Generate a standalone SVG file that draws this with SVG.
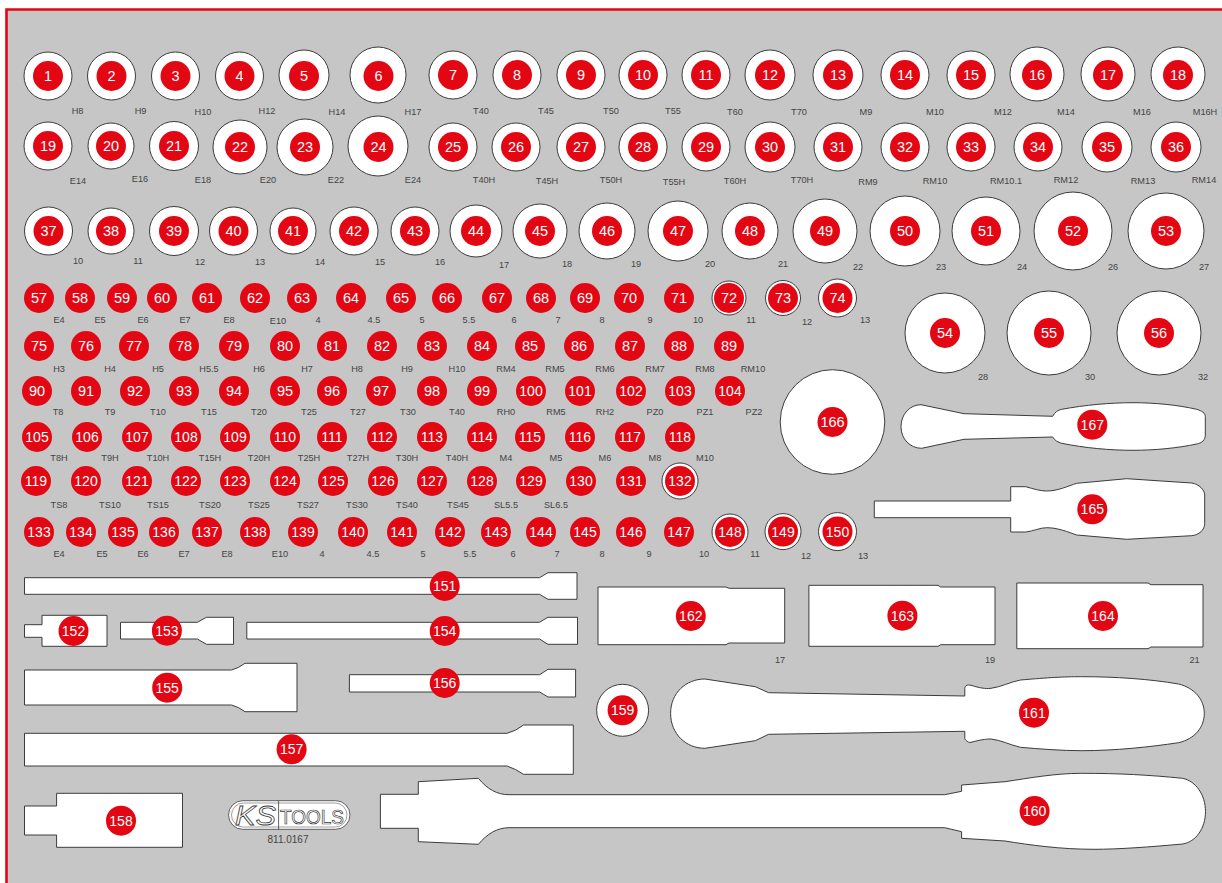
<svg xmlns="http://www.w3.org/2000/svg" width="1222" height="883" viewBox="0 0 1222 883">
<style>
text{font-family:"Liberation Sans",Arial,sans-serif}
.h{fill:#fff;stroke:#3c3c3c;stroke-width:1}
.b{fill:#e30613}
.n{fill:#fff;font-size:14.5px;text-anchor:middle}
.l{fill:#444;font-size:9.2px;text-anchor:middle}
</style>
<rect width="1222" height="883" fill="#fff"/>
<rect x="6.5" y="9.5" width="1216" height="874" fill="#c6c6c6"/>
<path d="M6.5 883V9.5H1222" fill="none" stroke="#e30613" stroke-width="2.6"/>
<g id="sockets-row-1">
<g id="n1"><circle class="h" cx="48" cy="76" r="24"/><circle class="b" cx="48" cy="76" r="15"/><text class="n" x="48" y="81">1</text><text class="l" x="77.5" y="114">H8</text></g>
<g id="n2"><circle class="h" cx="111.500" cy="76" r="24"/><circle class="b" cx="111.500" cy="76" r="15"/><text class="n" x="111.500" y="81">2</text><text class="l" x="140.500" y="114">H9</text></g>
<g id="n3"><circle class="h" cx="175.500" cy="76" r="24"/><circle class="b" cx="175.500" cy="76" r="15"/><text class="n" x="175.500" y="81">3</text><text class="l" x="203" y="115">H10</text></g>
<g id="n4"><circle class="h" cx="239.500" cy="76" r="24"/><circle class="b" cx="239.500" cy="76" r="15"/><text class="n" x="239.500" y="81">4</text><text class="l" x="267" y="114">H12</text></g>
<g id="n5"><circle class="h" cx="304" cy="75" r="25"/><circle class="b" cx="304" cy="76" r="15"/><text class="n" x="304" y="81">5</text><text class="l" x="337" y="115">H14</text></g>
<g id="n6"><circle class="h" cx="378" cy="75" r="28"/><circle class="b" cx="378.500" cy="76" r="15"/><text class="n" x="378.500" y="81">6</text><text class="l" x="413" y="115">H17</text></g>
<g id="n7"><circle class="h" cx="453" cy="75" r="24"/><circle class="b" cx="453" cy="75" r="15"/><text class="n" x="453" y="80">7</text><text class="l" x="481" y="114">T40</text></g>
<g id="n8"><circle class="h" cx="517" cy="75" r="24"/><circle class="b" cx="517" cy="75" r="15"/><text class="n" x="517" y="80">8</text><text class="l" x="546" y="114">T45</text></g>
<g id="n9"><circle class="h" cx="581" cy="75" r="24"/><circle class="b" cx="581" cy="75" r="15"/><text class="n" x="581" y="80">9</text><text class="l" x="611" y="114">T50</text></g>
<g id="n10"><circle class="h" cx="643" cy="75" r="24"/><circle class="b" cx="643" cy="75" r="15"/><text class="n" x="643" y="80">10</text><text class="l" x="673" y="114">T55</text></g>
<g id="n11"><circle class="h" cx="706" cy="75" r="24"/><circle class="b" cx="706" cy="75" r="15"/><text class="n" x="706" y="80">11</text><text class="l" x="735" y="115">T60</text></g>
<g id="n12"><circle class="h" cx="770" cy="75" r="25"/><circle class="b" cx="770" cy="75" r="15"/><text class="n" x="770" y="80">12</text><text class="l" x="799" y="115">T70</text></g>
<g id="n13"><circle class="h" cx="838" cy="75" r="25"/><circle class="b" cx="838" cy="75" r="15"/><text class="n" x="838" y="80">13</text><text class="l" x="866" y="115">M9</text></g>
<g id="n14"><circle class="h" cx="905" cy="75" r="24"/><circle class="b" cx="905" cy="75" r="15"/><text class="n" x="905" y="80">14</text><text class="l" x="935" y="115">M10</text></g>
<g id="n15"><circle class="h" cx="971" cy="75" r="24"/><circle class="b" cx="971" cy="75" r="15"/><text class="n" x="971" y="80">15</text><text class="l" x="1003" y="115">M12</text></g>
<g id="n16"><circle class="h" cx="1037" cy="74" r="27"/><circle class="b" cx="1037" cy="75" r="15"/><text class="n" x="1037" y="80">16</text><text class="l" x="1066" y="115">M14</text></g>
<g id="n17"><circle class="h" cx="1108" cy="74" r="27"/><circle class="b" cx="1108" cy="75" r="15"/><text class="n" x="1108" y="80">17</text><text class="l" x="1142" y="115">M16</text></g>
<g id="n18"><circle class="h" cx="1178" cy="74" r="27"/><circle class="b" cx="1178" cy="75" r="15"/><text class="n" x="1178" y="80">18</text><text class="l" x="1205" y="115">M16H</text></g>
</g>
<g id="sockets-row-2">
<g id="n19"><circle class="h" cx="48" cy="146" r="24"/><circle class="b" cx="48" cy="146" r="15"/><text class="n" x="48" y="151">19</text><text class="l" x="78" y="184">E14</text></g>
<g id="n20"><circle class="h" cx="111" cy="146" r="23"/><circle class="b" cx="111" cy="146" r="15"/><text class="n" x="111" y="151">20</text><text class="l" x="140" y="182">E16</text></g>
<g id="n21"><circle class="h" cx="174" cy="146" r="24.500"/><circle class="b" cx="174" cy="146" r="15"/><text class="n" x="174" y="151">21</text><text class="l" x="203" y="183">E18</text></g>
<g id="n22"><circle class="h" cx="240" cy="147" r="27"/><circle class="b" cx="240" cy="147" r="15"/><text class="n" x="240" y="152">22</text><text class="l" x="268" y="183">E20</text></g>
<g id="n23"><circle class="h" cx="305" cy="147" r="28"/><circle class="b" cx="305" cy="147" r="15"/><text class="n" x="305" y="152">23</text><text class="l" x="336" y="183">E22</text></g>
<g id="n24"><circle class="h" cx="378" cy="146" r="30"/><circle class="b" cx="378.500" cy="147" r="15"/><text class="n" x="378.500" y="152">24</text><text class="l" x="413" y="183">E24</text></g>
<g id="n25"><circle class="h" cx="453" cy="147" r="24"/><circle class="b" cx="453" cy="147" r="15"/><text class="n" x="453" y="152">25</text><text class="l" x="484" y="183">T40H</text></g>
<g id="n26"><circle class="h" cx="516" cy="147" r="24"/><circle class="b" cx="516" cy="147" r="15"/><text class="n" x="516" y="152">26</text><text class="l" x="547" y="184">T45H</text></g>
<g id="n27"><circle class="h" cx="581" cy="147" r="24"/><circle class="b" cx="581" cy="147" r="15"/><text class="n" x="581" y="152">27</text><text class="l" x="611" y="183">T50H</text></g>
<g id="n28"><circle class="h" cx="643" cy="147" r="24"/><circle class="b" cx="643" cy="147" r="15"/><text class="n" x="643" y="152">28</text><text class="l" x="674" y="185">T55H</text></g>
<g id="n29"><circle class="h" cx="706" cy="147" r="24"/><circle class="b" cx="706" cy="147" r="15"/><text class="n" x="706" y="152">29</text><text class="l" x="735" y="184">T60H</text></g>
<g id="n30"><circle class="h" cx="770" cy="147" r="25"/><circle class="b" cx="770" cy="147" r="15"/><text class="n" x="770" y="152">30</text><text class="l" x="802" y="183">T70H</text></g>
<g id="n31"><circle class="h" cx="838" cy="147" r="24"/><circle class="b" cx="838" cy="147" r="15"/><text class="n" x="838" y="152">31</text><text class="l" x="868" y="185">RM9</text></g>
<g id="n32"><circle class="h" cx="905" cy="147" r="24"/><circle class="b" cx="905" cy="147" r="15"/><text class="n" x="905" y="152">32</text><text class="l" x="935" y="184">RM10</text></g>
<g id="n33"><circle class="h" cx="971" cy="147" r="24"/><circle class="b" cx="971" cy="147" r="15"/><text class="n" x="971" y="152">33</text><text class="l" x="1006" y="184">RM10.1</text></g>
<g id="n34"><circle class="h" cx="1038" cy="147" r="24"/><circle class="b" cx="1038" cy="147" r="15"/><text class="n" x="1038" y="152">34</text><text class="l" x="1066" y="183">RM12</text></g>
<g id="n35"><circle class="h" cx="1107" cy="147" r="25"/><circle class="b" cx="1107" cy="147" r="15"/><text class="n" x="1107" y="152">35</text><text class="l" x="1143" y="184">RM13</text></g>
<g id="n36"><circle class="h" cx="1176" cy="147" r="25"/><circle class="b" cx="1176" cy="147" r="15"/><text class="n" x="1176" y="152">36</text><text class="l" x="1204" y="183">RM14</text></g>
</g>
<g id="sockets-row-3">
<g id="n37"><circle class="h" cx="48.500" cy="231" r="24"/><circle class="b" cx="48.500" cy="231" r="15"/><text class="n" x="48.500" y="236">37</text><text class="l" x="78" y="264">10</text></g>
<g id="n38"><circle class="h" cx="111" cy="231" r="23"/><circle class="b" cx="111" cy="231" r="15"/><text class="n" x="111" y="236">38</text><text class="l" x="138" y="264">11</text></g>
<g id="n39"><circle class="h" cx="174" cy="231" r="24.500"/><circle class="b" cx="174" cy="231" r="15"/><text class="n" x="174" y="236">39</text><text class="l" x="200" y="265">12</text></g>
<g id="n40"><circle class="h" cx="233.500" cy="231" r="24"/><circle class="b" cx="233.500" cy="231" r="15"/><text class="n" x="233.500" y="236">40</text><text class="l" x="260" y="265">13</text></g>
<g id="n41"><circle class="h" cx="293" cy="231" r="23"/><circle class="b" cx="293" cy="231" r="15"/><text class="n" x="293" y="236">41</text><text class="l" x="320" y="265">14</text></g>
<g id="n42"><circle class="h" cx="354" cy="231" r="24"/><circle class="b" cx="354" cy="231" r="15"/><text class="n" x="354" y="236">42</text><text class="l" x="380" y="265">15</text></g>
<g id="n43"><circle class="h" cx="415" cy="231" r="24"/><circle class="b" cx="415" cy="231" r="15"/><text class="n" x="415" y="236">43</text><text class="l" x="440" y="265">16</text></g>
<g id="n44"><circle class="h" cx="476" cy="231" r="26"/><circle class="b" cx="476" cy="231" r="15"/><text class="n" x="476" y="236">44</text><text class="l" x="504" y="268">17</text></g>
<g id="n45"><circle class="h" cx="540" cy="231" r="27"/><circle class="b" cx="540" cy="231" r="15"/><text class="n" x="540" y="236">45</text><text class="l" x="567" y="267">18</text></g>
<g id="n46"><circle class="h" cx="607" cy="231" r="28"/><circle class="b" cx="607" cy="231" r="15"/><text class="n" x="607" y="236">46</text><text class="l" x="636" y="267">19</text></g>
<g id="n47"><circle class="h" cx="678" cy="231" r="30"/><circle class="b" cx="678" cy="231" r="15"/><text class="n" x="678" y="236">47</text><text class="l" x="710" y="267">20</text></g>
<g id="n48"><circle class="h" cx="750" cy="231" r="28"/><circle class="b" cx="750" cy="231" r="15"/><text class="n" x="750" y="236">48</text><text class="l" x="783" y="267">21</text></g>
<g id="n49"><circle class="h" cx="825" cy="231" r="32"/><circle class="b" cx="825" cy="231" r="15"/><text class="n" x="825" y="236">49</text><text class="l" x="858" y="270">22</text></g>
<g id="n50"><circle class="h" cx="905" cy="231" r="35"/><circle class="b" cx="905" cy="231" r="15"/><text class="n" x="905" y="236">50</text><text class="l" x="941" y="270">23</text></g>
<g id="n51"><circle class="h" cx="986" cy="231" r="34"/><circle class="b" cx="986" cy="231" r="15"/><text class="n" x="986" y="236">51</text><text class="l" x="1022" y="270">24</text></g>
<g id="n52"><circle class="h" cx="1073" cy="231" r="39"/><circle class="b" cx="1073" cy="231" r="15"/><text class="n" x="1073" y="236">52</text><text class="l" x="1113" y="270">26</text></g>
<g id="n53"><circle class="h" cx="1166" cy="231" r="38"/><circle class="b" cx="1166" cy="231" r="15"/><text class="n" x="1166" y="236">53</text><text class="l" x="1204" y="270">27</text></g>
</g>
<g id="sockets-large">
<g id="n54"><circle class="h" cx="945" cy="333" r="40"/><circle class="b" cx="945" cy="333" r="15"/><text class="n" x="945" y="338">54</text><text class="l" x="983" y="380">28</text></g>
<g id="n55"><circle class="h" cx="1049" cy="333" r="42"/><circle class="b" cx="1049" cy="333" r="15"/><text class="n" x="1049" y="338">55</text><text class="l" x="1090" y="380">30</text></g>
<g id="n56"><circle class="h" cx="1159" cy="333" r="42"/><circle class="b" cx="1159" cy="333" r="15"/><text class="n" x="1159" y="338">56</text><text class="l" x="1203" y="380">32</text></g>
<g id="n166"><circle class="h" cx="832.500" cy="422" r="52.300"/><circle class="b" cx="832.500" cy="422" r="15"/><text class="n" x="832.500" y="427">166</text></g>
</g>
<g id="bits-row-1">
<g id="n57"><circle class="b" cx="39" cy="298" r="15"/><text class="n" x="39" y="303">57</text><text class="l" x="59" y="323">E4</text></g>
<g id="n58"><circle class="b" cx="80" cy="298" r="15"/><text class="n" x="80" y="303">58</text><text class="l" x="100" y="323">E5</text></g>
<g id="n59"><circle class="b" cx="122" cy="298" r="15"/><text class="n" x="122" y="303">59</text><text class="l" x="143" y="323">E6</text></g>
<g id="n60"><circle class="b" cx="162" cy="298" r="15"/><text class="n" x="162" y="303">60</text><text class="l" x="185" y="323">E7</text></g>
<g id="n61"><circle class="b" cx="207" cy="298" r="15"/><text class="n" x="207" y="303">61</text><text class="l" x="229" y="323">E8</text></g>
<g id="n62"><circle class="b" cx="255" cy="298" r="15"/><text class="n" x="255" y="303">62</text><text class="l" x="278" y="324">E10</text></g>
<g id="n63"><circle class="b" cx="302" cy="298" r="15"/><text class="n" x="302" y="303">63</text><text class="l" x="318" y="323">4</text></g>
<g id="n64"><circle class="b" cx="351" cy="298" r="15"/><text class="n" x="351" y="303">64</text><text class="l" x="374" y="323">4.5</text></g>
<g id="n65"><circle class="b" cx="401" cy="298" r="15"/><text class="n" x="401" y="303">65</text><text class="l" x="422" y="323">5</text></g>
<g id="n66"><circle class="b" cx="447" cy="298" r="15"/><text class="n" x="447" y="303">66</text><text class="l" x="469" y="323">5.5</text></g>
<g id="n67"><circle class="b" cx="497" cy="298" r="15"/><text class="n" x="497" y="303">67</text><text class="l" x="514" y="323">6</text></g>
<g id="n68"><circle class="b" cx="541" cy="298" r="15"/><text class="n" x="541" y="303">68</text><text class="l" x="558" y="323">7</text></g>
<g id="n69"><circle class="b" cx="585" cy="298" r="15"/><text class="n" x="585" y="303">69</text><text class="l" x="602" y="323">8</text></g>
<g id="n70"><circle class="b" cx="629" cy="298" r="15"/><text class="n" x="629" y="303">70</text><text class="l" x="650" y="323">9</text></g>
<g id="n71"><circle class="b" cx="679" cy="298" r="15"/><text class="n" x="679" y="303">71</text><text class="l" x="698" y="323">10</text></g>
<g id="n72"><circle class="h" cx="729" cy="298" r="17"/><circle class="b" cx="729" cy="298" r="15"/><text class="n" x="729" y="303">72</text><text class="l" x="751" y="323">11</text></g>
<g id="n73"><circle class="h" cx="783" cy="298" r="17.500"/><circle class="b" cx="783" cy="298" r="15"/><text class="n" x="783" y="303">73</text><text class="l" x="807" y="325">12</text></g>
<g id="n74"><circle class="h" cx="837.500" cy="298" r="19"/><circle class="b" cx="837.500" cy="298" r="15"/><text class="n" x="837.500" y="303">74</text><text class="l" x="865" y="323">13</text></g>
</g>
<g id="bits-row-2">
<g id="n75"><circle class="b" cx="39" cy="346" r="15"/><text class="n" x="39" y="351">75</text><text class="l" x="59" y="372">H3</text></g>
<g id="n76"><circle class="b" cx="86" cy="346" r="15"/><text class="n" x="86" y="351">76</text><text class="l" x="110" y="372">H4</text></g>
<g id="n77"><circle class="b" cx="134" cy="346" r="15"/><text class="n" x="134" y="351">77</text><text class="l" x="158" y="372">H5</text></g>
<g id="n78"><circle class="b" cx="184" cy="346" r="15"/><text class="n" x="184" y="351">78</text><text class="l" x="209" y="372">H5.5</text></g>
<g id="n79"><circle class="b" cx="234" cy="346" r="15"/><text class="n" x="234" y="351">79</text><text class="l" x="259" y="372">H6</text></g>
<g id="n80"><circle class="b" cx="285" cy="346" r="15"/><text class="n" x="285" y="351">80</text><text class="l" x="307" y="372">H7</text></g>
<g id="n81"><circle class="b" cx="332" cy="346" r="15"/><text class="n" x="332" y="351">81</text><text class="l" x="357" y="372">H8</text></g>
<g id="n82"><circle class="b" cx="382" cy="346" r="15"/><text class="n" x="382" y="351">82</text><text class="l" x="407" y="372">H9</text></g>
<g id="n83"><circle class="b" cx="432" cy="346" r="15"/><text class="n" x="432" y="351">83</text><text class="l" x="457" y="372">H10</text></g>
<g id="n84"><circle class="b" cx="482" cy="346" r="15"/><text class="n" x="482" y="351">84</text><text class="l" x="506" y="372">RM4</text></g>
<g id="n85"><circle class="b" cx="530" cy="346" r="15"/><text class="n" x="530" y="351">85</text><text class="l" x="555" y="372">RM5</text></g>
<g id="n86"><circle class="b" cx="579" cy="346" r="15"/><text class="n" x="579" y="351">86</text><text class="l" x="605" y="372">RM6</text></g>
<g id="n87"><circle class="b" cx="630" cy="346" r="15"/><text class="n" x="630" y="351">87</text><text class="l" x="655" y="372">RM7</text></g>
<g id="n88"><circle class="b" cx="679" cy="346" r="15"/><text class="n" x="679" y="351">88</text><text class="l" x="705" y="372">RM8</text></g>
<g id="n89"><circle class="b" cx="729" cy="346" r="15"/><text class="n" x="729" y="351">89</text><text class="l" x="753" y="372">RM10</text></g>
</g>
<g id="bits-row-3">
<g id="n90"><circle class="b" cx="37" cy="391" r="15"/><text class="n" x="37" y="396">90</text><text class="l" x="58" y="415">T8</text></g>
<g id="n91"><circle class="b" cx="86" cy="391" r="15"/><text class="n" x="86" y="396">91</text><text class="l" x="110" y="415">T9</text></g>
<g id="n92"><circle class="b" cx="135" cy="391" r="15"/><text class="n" x="135" y="396">92</text><text class="l" x="158" y="415">T10</text></g>
<g id="n93"><circle class="b" cx="184" cy="391" r="15"/><text class="n" x="184" y="396">93</text><text class="l" x="209" y="415">T15</text></g>
<g id="n94"><circle class="b" cx="234" cy="391" r="15"/><text class="n" x="234" y="396">94</text><text class="l" x="259" y="415">T20</text></g>
<g id="n95"><circle class="b" cx="285" cy="391" r="15"/><text class="n" x="285" y="396">95</text><text class="l" x="309" y="415">T25</text></g>
<g id="n96"><circle class="b" cx="332" cy="391" r="15"/><text class="n" x="332" y="396">96</text><text class="l" x="358" y="415">T27</text></g>
<g id="n97"><circle class="b" cx="381" cy="391" r="15"/><text class="n" x="381" y="396">97</text><text class="l" x="408" y="415">T30</text></g>
<g id="n98"><circle class="b" cx="432" cy="391" r="15"/><text class="n" x="432" y="396">98</text><text class="l" x="457" y="415">T40</text></g>
<g id="n99"><circle class="b" cx="482" cy="391" r="15"/><text class="n" x="482" y="396">99</text><text class="l" x="506" y="415">RH0</text></g>
<g id="n100"><circle class="b" cx="531" cy="391" r="15"/><text class="n" x="531" y="396" style="font-size:14px">100</text><text class="l" x="556" y="415">RM5</text></g>
<g id="n101"><circle class="b" cx="580" cy="391" r="15"/><text class="n" x="580" y="396" style="font-size:14px">101</text><text class="l" x="605" y="415">RH2</text></g>
<g id="n102"><circle class="b" cx="631" cy="391" r="15"/><text class="n" x="631" y="396" style="font-size:14px">102</text><text class="l" x="655" y="415">PZ0</text></g>
<g id="n103"><circle class="b" cx="680" cy="391" r="15"/><text class="n" x="680" y="396" style="font-size:14px">103</text><text class="l" x="705" y="415">PZ1</text></g>
<g id="n104"><circle class="b" cx="730" cy="391" r="15"/><text class="n" x="730" y="396" style="font-size:14px">104</text><text class="l" x="754" y="415">PZ2</text></g>
</g>
<g id="bits-row-4">
<g id="n105"><circle class="b" cx="37" cy="437" r="15"/><text class="n" x="37" y="442" style="font-size:14px">105</text><text class="l" x="59" y="461">T8H</text></g>
<g id="n106"><circle class="b" cx="87" cy="437" r="15"/><text class="n" x="87" y="442" style="font-size:14px">106</text><text class="l" x="110" y="461">T9H</text></g>
<g id="n107"><circle class="b" cx="137" cy="437" r="15"/><text class="n" x="137" y="442" style="font-size:14px">107</text><text class="l" x="158" y="461">T10H</text></g>
<g id="n108"><circle class="b" cx="186" cy="437" r="15"/><text class="n" x="186" y="442" style="font-size:14px">108</text><text class="l" x="210" y="461">T15H</text></g>
<g id="n109"><circle class="b" cx="235" cy="437" r="15"/><text class="n" x="235" y="442" style="font-size:14px">109</text><text class="l" x="259" y="461">T20H</text></g>
<g id="n110"><circle class="b" cx="285" cy="437" r="15"/><text class="n" x="285" y="442" style="font-size:14px">110</text><text class="l" x="309" y="461">T25H</text></g>
<g id="n111"><circle class="b" cx="332" cy="437" r="15"/><text class="n" x="332" y="442" style="font-size:14px">111</text><text class="l" x="358" y="461">T27H</text></g>
<g id="n112"><circle class="b" cx="382" cy="437" r="15"/><text class="n" x="382" y="442" style="font-size:14px">112</text><text class="l" x="407" y="461">T30H</text></g>
<g id="n113"><circle class="b" cx="432" cy="437" r="15"/><text class="n" x="432" y="442" style="font-size:14px">113</text><text class="l" x="457" y="461">T40H</text></g>
<g id="n114"><circle class="b" cx="482" cy="437" r="15"/><text class="n" x="482" y="442" style="font-size:14px">114</text><text class="l" x="506" y="461">M4</text></g>
<g id="n115"><circle class="b" cx="530" cy="437" r="15"/><text class="n" x="530" y="442" style="font-size:14px">115</text><text class="l" x="556" y="461">M5</text></g>
<g id="n116"><circle class="b" cx="580" cy="437" r="15"/><text class="n" x="580" y="442" style="font-size:14px">116</text><text class="l" x="605" y="461">M6</text></g>
<g id="n117"><circle class="b" cx="630" cy="437" r="15"/><text class="n" x="630" y="442" style="font-size:14px">117</text><text class="l" x="655" y="461">M8</text></g>
<g id="n118"><circle class="b" cx="680" cy="437" r="15"/><text class="n" x="680" y="442" style="font-size:14px">118</text><text class="l" x="705" y="461">M10</text></g>
</g>
<g id="bits-row-5">
<g id="n119"><circle class="b" cx="36" cy="481" r="15"/><text class="n" x="36" y="486" style="font-size:14px">119</text><text class="l" x="59" y="508">TS8</text></g>
<g id="n120"><circle class="b" cx="86" cy="481" r="15"/><text class="n" x="86" y="486" style="font-size:14px">120</text><text class="l" x="110" y="508">TS10</text></g>
<g id="n121"><circle class="b" cx="137" cy="481" r="15"/><text class="n" x="137" y="486" style="font-size:14px">121</text><text class="l" x="158" y="508">TS15</text></g>
<g id="n122"><circle class="b" cx="186" cy="481" r="15"/><text class="n" x="186" y="486" style="font-size:14px">122</text><text class="l" x="210" y="508">TS20</text></g>
<g id="n123"><circle class="b" cx="235" cy="481" r="15"/><text class="n" x="235" y="486" style="font-size:14px">123</text><text class="l" x="259" y="508">TS25</text></g>
<g id="n124"><circle class="b" cx="285" cy="481" r="15"/><text class="n" x="285" y="486" style="font-size:14px">124</text><text class="l" x="308" y="508">TS27</text></g>
<g id="n125"><circle class="b" cx="333" cy="481" r="15"/><text class="n" x="333" y="486" style="font-size:14px">125</text><text class="l" x="357" y="508">TS30</text></g>
<g id="n126"><circle class="b" cx="383" cy="481" r="15"/><text class="n" x="383" y="486" style="font-size:14px">126</text><text class="l" x="407" y="508">TS40</text></g>
<g id="n127"><circle class="b" cx="432" cy="481" r="15"/><text class="n" x="432" y="486" style="font-size:14px">127</text><text class="l" x="458" y="508">TS45</text></g>
<g id="n128"><circle class="b" cx="482" cy="481" r="15"/><text class="n" x="482" y="486" style="font-size:14px">128</text><text class="l" x="506" y="508">SL5.5</text></g>
<g id="n129"><circle class="b" cx="531" cy="481" r="15"/><text class="n" x="531" y="486" style="font-size:14px">129</text><text class="l" x="556" y="508">SL6.5</text></g>
<g id="n130"><circle class="b" cx="581" cy="481" r="15"/><text class="n" x="581" y="486" style="font-size:14px">130</text></g>
<g id="n131"><circle class="b" cx="631" cy="481" r="15"/><text class="n" x="631" y="486" style="font-size:14px">131</text></g>
<g id="n132"><circle class="h" cx="680" cy="481" r="18"/><circle class="b" cx="680" cy="481" r="15"/><text class="n" x="680" y="486" style="font-size:14px">132</text></g>
</g>
<g id="bits-row-6">
<g id="n133"><circle class="b" cx="39" cy="532" r="15"/><text class="n" x="39" y="537" style="font-size:14px">133</text><text class="l" x="59" y="557">E4</text></g>
<g id="n134"><circle class="b" cx="81" cy="532" r="15"/><text class="n" x="81" y="537" style="font-size:14px">134</text><text class="l" x="102" y="557">E5</text></g>
<g id="n135"><circle class="b" cx="123" cy="532" r="15"/><text class="n" x="123" y="537" style="font-size:14px">135</text><text class="l" x="143" y="557">E6</text></g>
<g id="n136"><circle class="b" cx="164" cy="532" r="15"/><text class="n" x="164" y="537" style="font-size:14px">136</text><text class="l" x="184" y="557">E7</text></g>
<g id="n137"><circle class="b" cx="207" cy="532" r="15"/><text class="n" x="207" y="537" style="font-size:14px">137</text><text class="l" x="227" y="557">E8</text></g>
<g id="n138"><circle class="b" cx="255" cy="532" r="15"/><text class="n" x="255" y="537" style="font-size:14px">138</text><text class="l" x="280" y="557">E10</text></g>
<g id="n139"><circle class="b" cx="303" cy="532" r="15"/><text class="n" x="303" y="537" style="font-size:14px">139</text><text class="l" x="322" y="557">4</text></g>
<g id="n140"><circle class="b" cx="353" cy="532" r="15"/><text class="n" x="353" y="537" style="font-size:14px">140</text><text class="l" x="373" y="557">4.5</text></g>
<g id="n141"><circle class="b" cx="402" cy="532" r="15"/><text class="n" x="402" y="537" style="font-size:14px">141</text><text class="l" x="423" y="557">5</text></g>
<g id="n142"><circle class="b" cx="450" cy="532" r="15"/><text class="n" x="450" y="537" style="font-size:14px">142</text><text class="l" x="470" y="557">5.5</text></g>
<g id="n143"><circle class="b" cx="496" cy="532" r="15"/><text class="n" x="496" y="537" style="font-size:14px">143</text><text class="l" x="513" y="557">6</text></g>
<g id="n144"><circle class="b" cx="541" cy="532" r="15"/><text class="n" x="541" y="537" style="font-size:14px">144</text><text class="l" x="557" y="557">7</text></g>
<g id="n145"><circle class="b" cx="585" cy="532" r="15"/><text class="n" x="585" y="537" style="font-size:14px">145</text><text class="l" x="602" y="557">8</text></g>
<g id="n146"><circle class="b" cx="631" cy="532" r="15"/><text class="n" x="631" y="537" style="font-size:14px">146</text><text class="l" x="649" y="557">9</text></g>
<g id="n147"><circle class="b" cx="679" cy="532" r="15"/><text class="n" x="679" y="537" style="font-size:14px">147</text><text class="l" x="704" y="557">10</text></g>
<g id="n148"><circle class="h" cx="730" cy="532" r="18"/><circle class="b" cx="730" cy="532" r="15"/><text class="n" x="730" y="537" style="font-size:14px">148</text><text class="l" x="755" y="557">11</text></g>
<g id="n149"><circle class="h" cx="783" cy="531.600" r="18"/><circle class="b" cx="783" cy="531.600" r="15"/><text class="n" x="783" y="536.600" style="font-size:14px">149</text><text class="l" x="806" y="559">12</text></g>
<g id="n150"><circle class="h" cx="837.500" cy="531.600" r="19"/><circle class="b" cx="837.500" cy="531.600" r="15"/><text class="n" x="837.500" y="536.600" style="font-size:14px">150</text><text class="l" x="863" y="559">13</text></g>
</g>
<g id="tools">
<g id="n151"><path class="h" d="M24.500 577.700H539.600Q544 575 548 572.700H577V599.300H548Q544 597 539.600 594.300H24.500Z"/><ellipse class="b" cx="444.700" cy="586" rx="15" ry="15"/><text class="n" x="444.700" y="591" style="font-size:14px">151</text></g>
<g id="n152"><path class="h" d="M24.500 624.700H42V615.300H107V646.300H42V637.300H24.500Z"/><circle class="b" cx="73.500" cy="631" r="15"/><text class="n" x="73.500" y="636" style="font-size:14px">152</text></g>
<g id="n153"><path class="h" d="M120.500 622.300H197.500Q202 619.500 206.600 617.300H233.500V644.300H206.600Q202 642 197.500 639H120.500Z"/><circle class="b" cx="166.900" cy="630.700" r="15"/><text class="n" x="166.900" y="635.700" style="font-size:14px">153</text></g>
<g id="n154"><path class="h" d="M246.800 622.300H539.600Q544 619.500 548 617.300H577.500V644.300H548Q544 642 539.600 639H246.800Z"/><circle class="b" cx="444.700" cy="631" r="15"/><text class="n" x="444.700" y="636" style="font-size:14px">154</text></g>
<g id="n155"><path class="h" d="M24.500 670H231.500Q239 668 245 663.300H297V711.700H245Q239 707 231.500 705H24.500Z"/><circle class="b" cx="167.200" cy="687.700" r="15"/><text class="n" x="167.200" y="692.700" style="font-size:14px">155</text></g>
<g id="n156"><path class="h" d="M349.400 674.700H539.600Q544 672 548 669.300H575.600V697H548Q544 694.500 539.600 692H349.400Z"/><circle class="b" cx="444.700" cy="683" r="15"/><text class="n" x="444.700" y="688" style="font-size:14px">156</text></g>
<g id="n157"><path class="h" d="M24.500 733.300H507Q516 731 523.500 725H573.300V774.300H523.500Q516 769 507 766H24.500Z"/><circle class="b" cx="291.600" cy="749.300" r="15"/><text class="n" x="291.600" y="754.300" style="font-size:14px">157</text></g>
<g id="n158"><path class="h" d="M24.500 806H56.600V793.300H182.500V847.300H56.600V835H24.500Z"/><circle class="b" cx="121" cy="820.700" r="15"/><text class="n" x="121" y="825.700" style="font-size:14px">158</text></g>
<g id="n159"><circle class="h" cx="622.600" cy="710.300" r="26"/><circle class="b" cx="622.600" cy="710.300" r="15"/><text class="n" x="622.600" y="715.300" style="font-size:14px">159</text></g>
<g id="n160"><path class="h" d="M380.400 794.300H418.300V781.700L478.400 778.300C487 789 497 794.700 509 794.700H944.700L961.600 791.300V785L1005 781.700C1030 778 1055 773.300 1081.700 773.300C1118 773.300 1150 775 1182.500 778.300C1196 781 1205.500 795 1205.500 811.700C1205.500 828 1196 842 1182.500 844C1150 847 1118 849.300 1094 849.300C1060 849.300 1030 845 1005 841L961.600 838.300V831.700L944.700 827.700H509C497 827.700 487 834 478.400 844.300L418.300 841.700V828.300H380.400Z"/><circle class="b" cx="1034.600" cy="811" r="15"/><text class="n" x="1034.600" y="816" style="font-size:14px">160</text></g>
<g id="n161"><path class="h" d="M670.600 713.300C670.600 693 686 679 704.900 679L755.300 686.700L768.600 692.700L964.800 696V688.300C965 685 968 684.500 971 685.300C980 688 985 689 991 688.300C1001 687 1010 682 1020.500 680C1050 677.500 1062 676.700 1081.700 676.700C1115 676.700 1150 679 1178.500 684C1195 688 1204.300 700 1204.300 713.300C1204.300 727 1195 739 1178.500 742.700C1150 747 1115 750.700 1081.700 750.700C1062 750.700 1040 749 1020.500 747.300C1010 745 1001 740 991 739C985 739 980 740 971 742.300C968 743 965 740 964.800 738.300V731.300L768.600 734.300L755.300 740.700L704.900 748.300C686 748.300 670.600 734 670.600 713.300Z"/><circle class="b" cx="1034" cy="712.700" r="15"/><text class="n" x="1034" y="717.700" style="font-size:14px">161</text></g>
<g id="n162"><path class="h" d="M598 587H726L729 588.300H784.700V643H729L726 644.700H598Z"/><circle class="b" cx="690.800" cy="616" r="15"/><text class="n" x="690.800" y="621" style="font-size:14px">162</text><text class="l" x="780" y="663">17</text></g>
<g id="n163"><path class="h" d="M808.900 585.300H938L940.700 587H995V644.700H940.700L938 646.300H808.900Z"/><circle class="b" cx="902.400" cy="615.700" r="15"/><text class="n" x="902.400" y="620.700" style="font-size:14px">163</text><text class="l" x="990" y="663">19</text></g>
<g id="n164"><path class="h" d="M1016.800 583H1148L1151 584.700H1203V647H1151L1148 648.700H1016.800Z"/><circle class="b" cx="1103" cy="616" r="15"/><text class="n" x="1103" y="621" style="font-size:14px">164</text><text class="l" x="1194.600" y="663">21</text></g>
<g id="n165"><path class="h" d="M874.300 501H1010.700V486.700H1025.700C1034 489 1040 491 1046.700 491C1058 491 1068 486 1076.700 483.300L1126.700 478.700L1191.700 483C1199 484 1204.700 490 1204.700 495V523.300C1204.700 530 1199 535 1191.700 535.700L1126.700 539.300L1076.700 535C1068 532 1058 527.700 1046.700 527.700C1040 527.700 1034 531 1025.700 532H1010.700V517.700H874.300Z"/><circle class="b" cx="1092.300" cy="509.300" r="15"/><text class="n" x="1092.300" y="514.300" style="font-size:14px">165</text></g>
<g id="n167"><path class="h" d="M901 426.700C901 414 910 404.700 921 404.700L964 413.700L1052.700 416.300C1055 412 1058 410 1061.700 409.300C1085 405 1110 402.700 1133 402.700C1155 402.700 1178 405 1196.700 409.300C1202 411 1205.300 413 1205.300 416.700V435C1205.300 440 1202 443 1196.700 444C1178 448 1155 450.300 1133 450.300C1110 450.300 1085 448 1061.700 443.300C1058 442 1055 441 1052.700 437L964 439.300L921.700 448.300C910 448.300 901 439 901 426.700Z"/><circle class="b" cx="1092.300" cy="424.700" r="15"/><text class="n" x="1092.300" y="429.700" style="font-size:14px">167</text></g>
</g>
<g id="logo">
<rect x="228.500" y="800.700" width="121.500" height="28.600" rx="14.300" fill="#fff" stroke="#3c3c3c" stroke-width="0.8"/>
<rect x="231.500" y="803" width="115.500" height="24" rx="12" fill="#fff" stroke="#3c3c3c" stroke-width="0.5"/>
<path d="M278.600 800.700V829.300" stroke="#3c3c3c" stroke-width="0.8"/>
<text x="235" y="825" style="font-size:27px;font-style:italic" fill="#fff" stroke="#3c3c3c" stroke-width="0.8" textLength="41" lengthAdjust="spacingAndGlyphs">KS</text>
<text x="280" y="824" style="font-size:20px" fill="#fff" stroke="#3c3c3c" stroke-width="0.7" textLength="64" lengthAdjust="spacingAndGlyphs">TOOLS</text>
<text x="288" y="843" style="font-size:10px;text-anchor:middle" fill="#444">811.0167</text>
</g>
<g id="connectors"></g>
</svg>
